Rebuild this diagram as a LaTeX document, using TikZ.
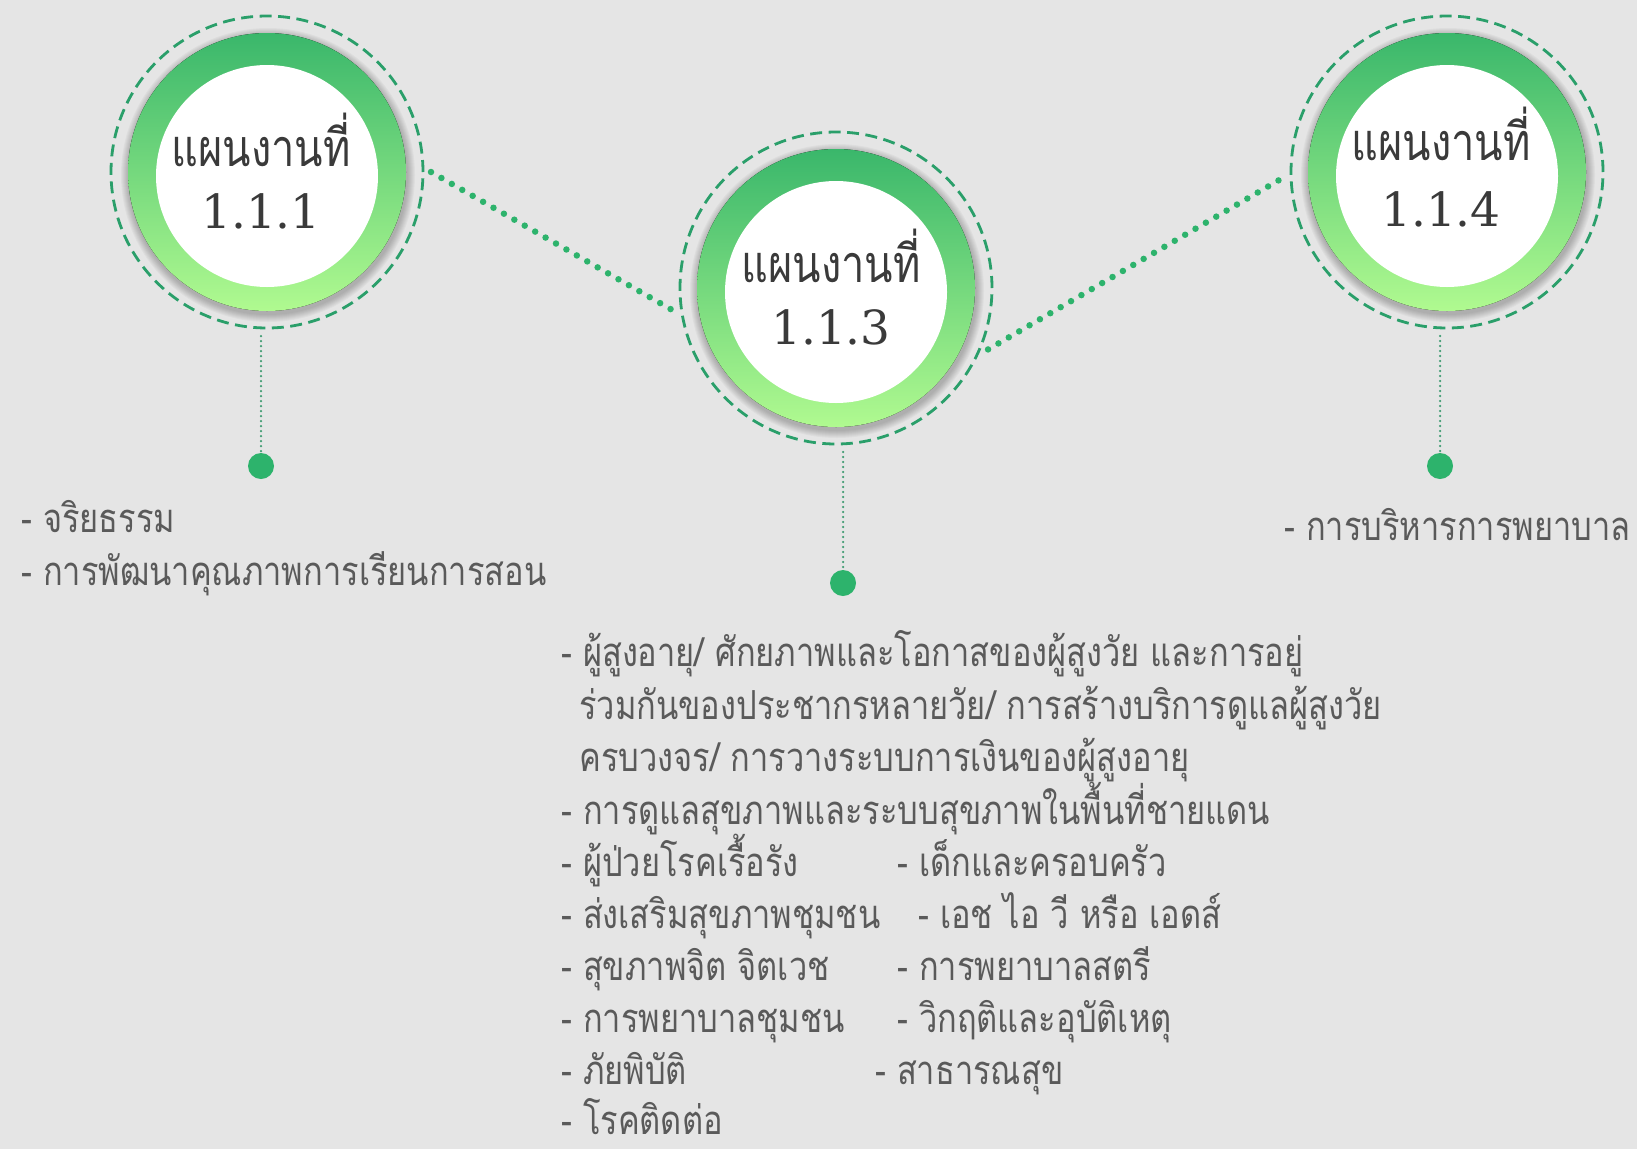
\documentclass[tikz,border=0pt]{standalone}
\usepackage{fontspec}
\newfontfamily\thaicirc[Script=Thai,FakeStretch=0.8]{Loma}
\newfontfamily\thailist[Script=Thai,FakeStretch=0.815]{Loma}
\newfontfamily\numfont{DejaVu Serif}
\definecolor{bgcol}{HTML}{E5E5E5}
\definecolor{dashgreen}{HTML}{2A9F6A}
\definecolor{ringtop}{HTML}{3AB76B}
\definecolor{ringbot}{HTML}{B0FA90}
\definecolor{dotgreen}{HTML}{2DB36C}
\definecolor{vdot}{HTML}{3F9C72}
\definecolor{circtext}{HTML}{3A3A3A}
\definecolor{listcol}{HTML}{5A5A5A}
\tikzset{
  dashcirc/.style={circle, draw=dashgreen, line width=2.8pt, dash pattern=on 12pt off 6.5pt,
    minimum size=312pt, inner sep=0pt, outer sep=8pt},
  ring/.style={top color=ringtop, bottom color=ringbot},
  bigdots/.style={draw=dotgreen, line width=6.5pt, dash pattern=on 0pt off 12pt, line cap=round},
  smalldots/.style={draw=vdot, line width=2.5pt, dash pattern=on 0pt off 5pt, line cap=round},
  enddot/.style={circle, fill=dotgreen, minimum size=26pt, inner sep=0pt},
  cthai/.style={font=\thaicirc\fontsize{52}{54}\selectfont, text=circtext, anchor=base, inner sep=0pt},
  cnum/.style={font=\numfont\fontsize{47}{49}\selectfont, text=circtext, anchor=base, inner sep=0pt},
  ltext/.style={font=\thailist\fontsize{40}{42}\selectfont, text=listcol, anchor=base west, inner sep=0pt},
}
\newcommand{\planring}[2]{%
  \foreach \i in {1,...,8} \fill[black, opacity=0.03] (#1+1,#2+3) circle[radius=139+\i];
  \fill[ring] (#1,#2) circle[radius=139];
  \fill[white] (#1,#2+4) circle[radius=111];
}
\begin{document}
\begin{tikzpicture}[x=1pt,y=-1pt]
\fill[bgcol] (0,0) rectangle (1637,1149);
\useasboundingbox (0,0) rectangle (1637,1149);

% rings
\planring{267}{172}
\planring{836}{288}
\planring{1447}{172}

% dashed circles
\node[dashcirc] (c1) at (267,172) {};
\node[dashcirc] (c3) at (836,288) {};
\node[dashcirc] (c4) at (1447,172) {};

% circle texts
\node[cthai] (t1) at (261,166) {แผนงานที่};
\node[cnum] (n1) at (261,228) {1.1.1};
\node[cthai] (t3) at (831,282) {แผนงานที่};
\node[cnum] (n3) at (831,344) {1.1.3};
\node[cthai] (t4) at (1441,160) {แผนงานที่};
\node[cnum] (n4) at (1441,226) {1.1.4};

% connectors between circles
\draw[bigdots] (c1.0) -- (c3.188.8);
\draw[bigdots] (c3.338) -- (c4.182.8);

% end dots
\node[enddot] (d1) at (261,466) {};
\node[enddot] (d3) at (843,583) {};
\node[enddot] (d4) at (1440,466) {};
\draw[smalldots] (d1 |- c1.south) -- (d1.north);
\draw[smalldots] (d3 |- c3.south) -- (d3.north);
\draw[smalldots] (d4 |- c4.south) -- (d4.north);

% left list
\node[ltext] (a1) at (21,532) {- จริยธรรม};
\node[ltext] (a2) at (21,585) {- การพัฒนาคุณภาพการเรียนการสอน};

% right list
\node[ltext] (r1) at (1284,540) {- การบริหารการพยาบาล};

% middle list
\node[ltext] (m1) at (561,666) {- ผู้สูงอายุ/ ศักยภาพและโอกาสของผู้สูงวัย และการอยู่};
\node[ltext] (m2) at (579,719) {ร่วมกันของประชากรหลายวัย/ การสร้างบริการดูแลผู้สูงวัย};
\node[ltext] (m3) at (579,771) {ครบวงจร/ การวางระบบการเงินของผู้สูงอายุ};
\node[ltext] (m4) at (561,824) {- การดูแลสุขภาพและระบบสุขภาพในพื้นที่ชายแดน};
\node[ltext] (m5) at (561,876) {- ผู้ป่วยโรคเรื้อรัง};
\node[ltext] (m6) at (561,928) {- ส่งเสริมสุขภาพชุมชน};
\node[ltext] (m7) at (561,980) {- สุขภาพจิต จิตเวช};
\node[ltext] (m8) at (561,1032) {- การพยาบาลชุมชน};
\node[ltext] (m9) at (561,1084) {- ภัยพิบัติ};
\node[ltext] (m10) at (561,1134) {- โรคติดต่อ};
\node[ltext] (k1) at (897,876) {- เด็กและครอบครัว};
\node[ltext] (k2) at (918,928) {- เอช ไอ วี หรือ เอดส์};
\node[ltext] (k3) at (897,980) {- การพยาบาลสตรี};
\node[ltext] (k4) at (897,1032) {- วิกฤติและอุบัติเหตุ};
\node[ltext] (k5) at (875,1084) {- สาธารณสุข};
\end{tikzpicture}
\end{document}
